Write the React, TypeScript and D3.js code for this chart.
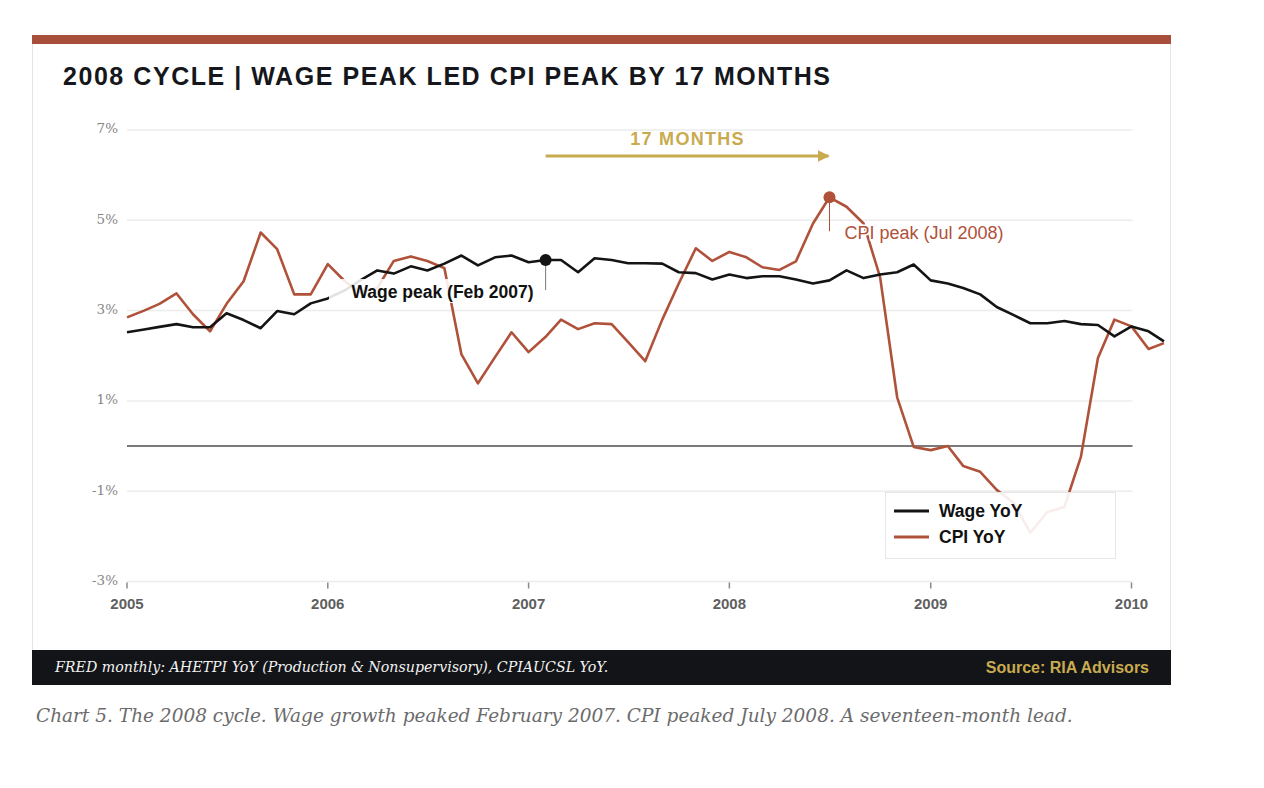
import React from "react";
import * as d3 from "d3";

// Monthly YoY growth, Jan 2005 – Mar 2010 (%)
const wageYoY = [
  2.52, 2.58, 2.64, 2.7, 2.63, 2.63, 2.94, 2.79, 2.61, 2.99, 2.92, 3.16,
  3.27, 3.45, 3.67, 3.89, 3.82, 3.98, 3.89, 4.04, 4.22, 4.0, 4.18, 4.22,
  4.07, 4.12, 4.12, 3.85, 4.16, 4.12, 4.05, 4.05, 4.04, 3.85, 3.83, 3.69,
  3.8, 3.72, 3.76, 3.76, 3.69, 3.6, 3.67, 3.89, 3.72, 3.8, 3.85, 4.02,
  3.67, 3.6, 3.5, 3.36, 3.08, 2.9, 2.72, 2.72, 2.77, 2.7, 2.68, 2.43,
  2.65, 2.54, 2.32,
];
const cpiYoY = [
  2.85, 3.0, 3.15, 3.38, 2.92, 2.54, 3.15, 3.65, 4.73, 4.36, 3.36, 3.36,
  4.03, 3.65, 3.4, 3.5, 4.1, 4.2, 4.1, 3.94, 2.03, 1.39, 1.97, 2.52,
  2.08, 2.42, 2.8, 2.59, 2.72, 2.7, 2.3, 1.88, 2.8, 3.6, 4.38, 4.1,
  4.3, 4.18, 3.96, 3.9, 4.09, 4.93, 5.51, 5.3, 4.93, 3.74, 1.08, -0.02,
  -0.09, 0.0, -0.44, -0.57, -0.97, -1.26, -1.92, -1.46, -1.35, -0.24, 1.95, 2.8,
  2.65, 2.15, 2.28,
];
const startYear = 2005;
const yearTicks = [2005, 2006, 2007, 2008, 2009, 2010];
const yTicks = [-3, -1, 1, 3, 5, 7];
const wagePeakIndex = 25; // Feb 2007
const cpiPeakIndex = 42; // Jul 2008
const seriesNames = ["Wage YoY", "CPI YoY"];

const TITLE = "2008 CYCLE | WAGE PEAK LED CPI PEAK BY 17 MONTHS";
const LEAD_LABEL = "17 MONTHS";
const WAGE_PEAK_LABEL = "Wage peak (Feb 2007)";
const CPI_PEAK_LABEL = "CPI peak (Jul 2008)";
const FOOTNOTE = "FRED monthly: AHETPI YoY (Production & Nonsupervisory), CPIAUCSL YoY.";
const SOURCE = "Source: RIA Advisors";
const CAPTION =
  "Chart 5. The 2008 cycle. Wage growth peaked February 2007. CPI peaked July 2008. A seventeen-month lead.";

const RUST = "#b0513a";
const INK = "#141414";
const GOLD = "#c9ab4f";
const SANS = "'Liberation Sans', Arial, sans-serif";
const SERIF = "'DejaVu Serif', Georgia, serif";

export default function App() {
  const dates = wageYoY.map((_, i) => new Date(startYear, i, 1));
  const x = d3
    .scaleTime()
    .domain([new Date(2005, 0, 1), new Date(2010, 0, 1)])
    .range([127, 1131.5]);
  const y = d3.scaleLinear().domain([-3, 7]).range([581.5, 130]);

  const line = d3
    .line<number>()
    .x((_, i) => x(dates[i]))
    .y((v) => y(v))
    .curve(d3.curveLinear);

  const wx = x(dates[wagePeakIndex]);
  const wy = y(wageYoY[wagePeakIndex]);
  const cx = x(dates[cpiPeakIndex]);
  const cy = y(cpiYoY[cpiPeakIndex]);

  const gridX0 = x(new Date(2005, 0, 1));
  const gridX1 = x(new Date(2010, 0, 1)) + 1;

  return (
    <svg
      width={1264}
      height={788}
      style={{ position: "absolute", left: 0, top: 0, background: "#fff" }}
    >
      <defs>
        <marker
          id="leadArrow"
          viewBox="0 0 10 10"
          refX="9"
          refY="5"
          markerWidth="4"
          markerHeight="4"
          orient="auto"
          markerUnits="strokeWidth"
        >
          <path d="M0,0 L10,5 L0,10 Z" fill={GOLD} />
        </marker>
      </defs>

      {/* card */}
      <rect x={32.5} y={35.5} width={1138} height={649} fill="#fff" stroke="#e4e4e4" />
      <rect x={32} y={35} width={1139} height={9} fill="#a84f3b" />

      <text
        x={63}
        y={85}
        fontFamily={SANS}
        fontWeight="bold"
        fontSize={25}
        letterSpacing={1.55}
        fill="#15171c"
      >
        {TITLE}
      </text>

      {/* grid */}
      {yTicks.map((t) => (
        <g key={t}>
          <line x1={gridX0} x2={gridX1} y1={y(t)} y2={y(t)} stroke="#ececec" strokeWidth={1.5} />
          <text
            x={118}
            y={y(t)}
            dy="0.25em"
            textAnchor="end"
            fontFamily={SERIF}
            fontSize={13.5}
            fill="#868686"
          >
            {t}%
          </text>
        </g>
      ))}
      <line x1={gridX0} x2={gridX1} y1={y(0)} y2={y(0)} stroke="#7a7a7a" strokeWidth={2} />

      {/* x axis */}
      {yearTicks.map((yr) => {
        const px = x(new Date(yr, 0, 1));
        return (
          <g key={yr}>
            <line x1={px} x2={px} y1={y(-3) + 1} y2={y(-3) + 7} stroke="#8a8a8a" strokeWidth={1.5} />
            <text
              x={px}
              y={609}
              textAnchor="middle"
              fontFamily={SANS}
              fontWeight="bold"
              fontSize={15}
              fill="#5f5f5f"
            >
              {yr}
            </text>
          </g>
        );
      })}

      {/* lead arrow */}
      <text
        x={(wx + cx) / 2}
        y={145}
        textAnchor="middle"
        fontFamily={SANS}
        fontWeight="bold"
        fontSize={18}
        letterSpacing={1.3}
        fill={GOLD}
      >
        {LEAD_LABEL}
      </text>
      <line
        x1={wx}
        x2={cx - 1}
        y1={156}
        y2={156}
        stroke={GOLD}
        strokeWidth={3}
        markerEnd="url(#leadArrow)"
      />

      {/* series */}
      <path d={line(cpiYoY) ?? ""} fill="none" stroke={RUST} strokeWidth={2.6} strokeLinejoin="round" />
      <path d={line(wageYoY) ?? ""} fill="none" stroke={INK} strokeWidth={2.6} strokeLinejoin="round" />

      {/* wage peak annotation */}
      <rect x={329} y={279} width={210} height={24} fill="#fff" fillOpacity={0.88} />
      <line x1={wx} x2={wx} y1={wy} y2={wy + 30} stroke="#777" strokeWidth={1} />
      <circle cx={wx} cy={wy} r={6} fill={INK} />
      <text
        x={wx - 12}
        y={298}
        textAnchor="end"
        fontFamily={SANS}
        fontWeight="bold"
        fontSize={17.5}
        fill="#111"
      >
        {WAGE_PEAK_LABEL}
      </text>

      {/* CPI peak annotation */}
      <line x1={cx} x2={cx} y1={cy} y2={cy + 34} stroke={RUST} strokeWidth={1} />
      <circle cx={cx} cy={cy} r={6} fill={RUST} />
      <text
        x={cx + 15}
        y={239}
        fontFamily={SANS}
        fontSize={18}
        fill={RUST}
        stroke="#fff"
        strokeWidth={3}
        paintOrder="stroke"
      >
        {CPI_PEAK_LABEL}
      </text>

      {/* legend */}
      <rect x={885.5} y={492.5} width={230} height={66} fill="#fff" fillOpacity={0.9} stroke="#e6e6e6" />
      {seriesNames.map((name, i) => (
        <g key={name} transform={`translate(894, ${511 + i * 26})`}>
          <line x1={0} x2={35} y1={0} y2={0} stroke={i === 0 ? INK : RUST} strokeWidth={3} />
          <text x={45} y={0} dy="0.36em" fontFamily={SANS} fontWeight="bold" fontSize={17.5} fill="#111">
            {name}
          </text>
        </g>
      ))}

      {/* footer */}
      <rect x={32} y={650} width={1139} height={35} fill="#121418" />
      <text x={55} y={672} fontFamily={SERIF} fontStyle="italic" fontSize={14.2} fill="#f2f2f2">
        {FOOTNOTE}
      </text>
      <text
        x={1149}
        y={673}
        textAnchor="end"
        fontFamily={SANS}
        fontWeight="bold"
        fontSize={16}
        fill={GOLD}
      >
        {SOURCE}
      </text>

      <text x={36} y={722} fontFamily={SERIF} fontStyle="italic" fontSize={18.5} fill="#6b6b6b">
        {CAPTION}
      </text>
    </svg>
  );
}
